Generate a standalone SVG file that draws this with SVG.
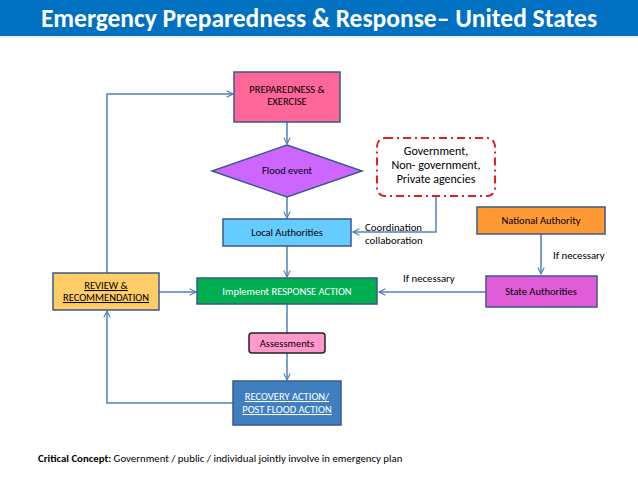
<svg xmlns="http://www.w3.org/2000/svg" width="638" height="479" viewBox="0 0 638 479">
<defs>
<marker id="arr" viewBox="0 0 10 10" refX="9" refY="5" markerWidth="8" markerHeight="8" markerUnits="userSpaceOnUse" orient="auto">
<path d="M1,1 L9,5 L1,9" fill="none" stroke="#4F81BD" stroke-width="1.4"/>
</marker>
</defs>
<style>
text{font-family:Carlito,"Liberation Sans",Arial,sans-serif;}
.t{font-size:10.5px;text-anchor:middle;fill:#000;}
.w{fill:#fff;}
.u{text-decoration:underline;}
.box{stroke:#3B5A8A;stroke-width:1.5;}
.c{fill:none;stroke:#4F81BD;stroke-width:1.5;}
.lbl{font-size:10.8px;fill:#000;}
</style>
<rect width="638" height="479" fill="#fff"/>
<g id="title">
<rect x="0" y="0" width="638" height="36" fill="#0070C0"/>
<rect x="0" y="36" width="638" height="2" fill="#E6F2FA"/>
<text x="319" y="27" font-size="25.5" font-weight="bold" fill="#fff" text-anchor="middle">Emergency Preparedness &amp; Response– United States</text>
</g>
<g id="connectors">
<path class="c" d="M287,122 V144" marker-end="url(#arr)"/>
<path class="c" d="M287,197 V218" marker-end="url(#arr)"/>
<path class="c" d="M287,246 V277" marker-end="url(#arr)"/>
<path class="c" d="M287,304 V333"/>
<path class="c" d="M287,353 V380" marker-end="url(#arr)"/>
<path class="c" d="M436,196 V232 H353" marker-end="url(#arr)"/>
<path class="c" d="M541,234 V274" marker-end="url(#arr)"/>
<path class="c" d="M486,292 H379" marker-end="url(#arr)"/>
<path class="c" d="M159,292 H196" marker-end="url(#arr)"/>
<path class="c" d="M107,273 V94 H233" marker-end="url(#arr)"/>
<path class="c" d="M233,403 H107 V311" marker-end="url(#arr)"/>
<text class="lbl" x="365" y="231">Coordination</text>
<text class="lbl" x="365" y="244">collaboration</text>
<text class="lbl" x="553" y="259">If necessary</text>
<text class="lbl" x="403" y="282">If necessary</text>
</g>
<g id="preparedness">
<rect class="box" x="234" y="72" width="106" height="50" fill="#FF6699"/>
<text class="t" x="287" y="93">PREPAREDNESS &amp;</text>
<text class="t" x="287" y="105">EXERCISE</text>
</g>
<g id="flood">
<polygon class="box" points="287,145 362,171 287,197 212,171" fill="#CC66FF"/>
<text class="t" x="287" y="174">Flood event</text>
</g>
<g id="agencies">
<rect x="377" y="138" width="118" height="58" rx="8" fill="#fff" stroke="#E02020" stroke-width="2" stroke-dasharray="8,4,2,4"/>
<text x="436" y="155" font-size="12" text-anchor="middle">Government,</text>
<text x="436" y="169" font-size="12" text-anchor="middle">Non- government,</text>
<text x="436" y="183" font-size="12" text-anchor="middle">Private agencies</text>
</g>
<g id="local">
<rect class="box" x="223" y="219" width="128" height="27" fill="#66CCFF"/>
<text class="t" x="287" y="236">Local Authorities</text>
</g>
<g id="national">
<rect class="box" x="477" y="207" width="128" height="27" fill="#FF9933"/>
<text class="t" x="541" y="224">National Authority</text>
</g>
<g id="state">
<rect class="box" x="486" y="276" width="111" height="31" fill="#E05CD8"/>
<text class="t" x="541" y="295">State Authorities</text>
</g>
<g id="implement">
<rect class="box" x="197" y="278" width="180" height="26" fill="#00B050"/>
<text class="t w" x="287" y="295">Implement RESPONSE ACTION</text>
</g>
<g id="review">
<rect class="box" x="53" y="273" width="106" height="37" fill="#FFCC66"/>
<text class="t u" x="106" y="289">REVIEW &amp;</text>
<text class="t u" x="106" y="301">RECOMMENDATION</text>
</g>
<g id="assessments">
<rect x="249" y="333" width="76" height="20" rx="3" fill="#FF99CC" stroke="#222" stroke-width="1.5"/>
<text class="t" x="287" y="347">Assessments</text>
</g>
<g id="recovery">
<rect class="box" x="233" y="381" width="108" height="44" fill="#3F7FC0"/>
<text class="t w u" x="287" y="400">RECOVERY ACTION/</text>
<text class="t w u" x="287" y="413">POST FLOOD  ACTION</text>
</g>
<g id="caption">
<text x="38" y="462" font-size="10.8"><tspan font-weight="bold">Critical Concept:</tspan> Government / public / individual jointly involve in emergency plan</text>
</g>
</svg>
